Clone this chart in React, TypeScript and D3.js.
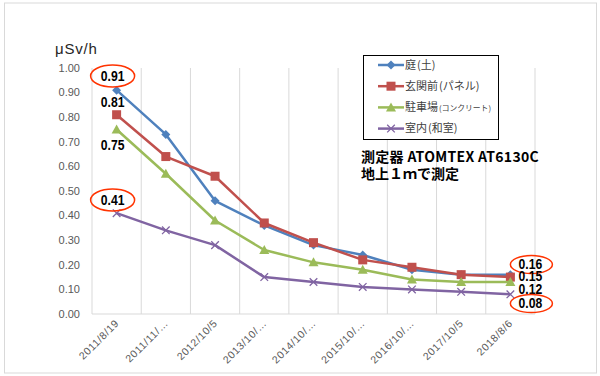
import React from "react";
import * as d3 from "d3";

const categories = ["2011/8/19", "2011/11/…", "2012/10/5", "2013/10/…", "2014/10/…", "2015/10/…", "2016/10/…", "2017/10/5", "2018/8/6"];
const seriesNames = ["庭(土)", "玄関前(パネル)", "駐車場(コンクリート)", "室内(和室)"];
const niwa = [0.91, 0.73, 0.46, 0.36, 0.28, 0.24, 0.18, 0.16, 0.16];
const genkan = [0.81, 0.64, 0.56, 0.37, 0.29, 0.22, 0.19, 0.16, 0.15];
const chusha = [0.75, 0.57, 0.38, 0.26, 0.21, 0.18, 0.14, 0.13, 0.13];
const shitsunai = [0.41, 0.34, 0.28, 0.15, 0.13, 0.11, 0.10, 0.09, 0.08];
const yTicks = [0, 0.1, 0.2, 0.3, 0.4, 0.5, 0.6, 0.7, 0.8, 0.9, 1.0];
const firstLabels = ["0.91", "0.81", "0.75", "0.41"];
const lastLabels = ["0.16", "0.15", "0.12", "0.08"];
const colors = ["#4F81BD", "#C0504D", "#9BBB59", "#8064A2"];
const markers = ["diamond", "square", "triangle", "x"];

const W = 600, H = 376;
const left = 92, right = 535, top = 68, bottom = 314;

function Marker({ type, x, y, color }: { type: string; x: number; y: number; color: string }) {
  if (type === "diamond") {
    const s = 4.5;
    return <path d={`M${x},${y - s}L${x + s},${y}L${x},${y + s}L${x - s},${y}Z`} fill={color} />;
  }
  if (type === "square") {
    const s = 4.5;
    return <rect x={x - s} y={y - s} width={2 * s} height={2 * s} fill={color} />;
  }
  if (type === "triangle") {
    const s = 5;
    return <path d={`M${x},${y - s}L${x + s},${y + s * 0.8}L${x - s},${y + s * 0.8}Z`} fill={color} />;
  }
  const s = 3.8;
  return (
    <path d={`M${x - s},${y - s}L${x + s},${y + s}M${x - s},${y + s}L${x + s},${y - s}`} stroke={color} strokeWidth={1.3} fill="none" />
  );
}

function DataLabel({ x, y, text }: { x: number; y: number; text: string }) {
  return (
    <text
      transform={`translate(${x},${y}) scale(0.84,1)`}
      dy="0.36em"
      textAnchor="middle"
      fontSize={14.5}
      fontWeight="bold"
      fontFamily="'Liberation Sans', Arial, sans-serif"
      fill="#000"
    >
      {text}
    </text>
  );
}

export default function App() {
  const data = [niwa, genkan, chusha, shitsunai];
  const x = d3.scaleBand<string>().domain(categories).range([left, right]);
  const y = d3.scaleLinear().domain([0, 1]).range([bottom, top]);
  const cx = (c: string) => (x(c) as number) + x.bandwidth() / 2;
  const line = d3
    .line<number>()
    .x((_, i) => cx(categories[i]))
    .y((d) => y(d));
  const boundaries = categories.map((c) => x(c) as number).concat([right]);
  const firstX = cx(categories[0]) - 4;
  const firstY = [76, 102, 145, 200];
  const lastX = cx(categories[categories.length - 1]) + 20;
  const lastY = [264, 276, 289, 303];
  const circledFirst = [true, false, false, true];
  const circledLast = [true, false, false, true];
  const jp = "'Noto Sans CJK JP', sans-serif";

  return (
    <svg width={W} height={H} style={{ position: "absolute", left: 0, top: 0 }} fontFamily="'Liberation Sans', Arial, sans-serif">
      <rect x={0} y={0} width={W} height={H} fill="#fff" />
      <rect x={4.5} y={3} width={592} height={370} fill="#fff" stroke="#d9d9d9" strokeWidth={1} />
      {boundaries.map((b, i) => (
        <line key={i} x1={b} x2={b} y1={top} y2={bottom} stroke="#d9d9d9" strokeWidth={1} />
      ))}
      <line x1={left} x2={right} y1={bottom} y2={bottom} stroke="#d9d9d9" strokeWidth={1} />
      {yTicks.map((t) => (
        <text key={t} x={80} y={y(t)} dy="0.35em" textAnchor="end" fontSize={11} fill="#595959">
          {t.toFixed(2)}
        </text>
      ))}
      <text x={55} y={54} fontSize={15} fill="#262626" letterSpacing={0.8}>μSv/h</text>
      {categories.map((c) => (
        <text
          key={c}
          transform={`translate(${cx(c) + 3},${324}) rotate(-45)`}
          textAnchor="end"
          fontSize={10.5}
          fill="#595959"
          letterSpacing={0.6}
        >
          {c}
        </text>
      ))}
      {data.map((s, si) => (
        <g key={si}>
          <path d={line(s) || ""} fill="none" stroke={colors[si]} strokeWidth={2.5} strokeLinejoin="round" />
          {s.map((v, i) => (
            <Marker key={i} type={markers[si]} x={cx(categories[i])} y={y(v)} color={colors[si]} />
          ))}
        </g>
      ))}
      {firstLabels.map((l, i) => (
        <g key={"f" + i}>
          {circledFirst[i] && (
            <ellipse cx={firstX} cy={firstY[i]} rx={22} ry={11} fill="none" stroke="#FF3300" strokeWidth={1.5} />
          )}
          <DataLabel x={firstX} y={firstY[i]} text={l} />
        </g>
      ))}
      {lastLabels.map((l, i) => (
        <g key={"l" + i}>
          {circledLast[i] && (
            <ellipse cx={lastX + 1} cy={lastY[i] + 0.5} rx={21} ry={9} fill="none" stroke="#FF3300" strokeWidth={1.5} />
          )}
          <DataLabel x={lastX} y={lastY[i]} text={l} />
        </g>
      ))}
      <rect x={363.5} y={55.5} width={135} height={84} fill="#fff" stroke="#000" strokeWidth={1} />
      {seriesNames.map((n, i) => {
        const ly = 65 + i * 21.2;
        const k = n.indexOf("(");
        return (
          <g key={n}>
            <line x1={378} x2={404} y1={ly} y2={ly} stroke={colors[i]} strokeWidth={2.5} />
            <Marker type={markers[i]} x={391} y={ly} color={colors[i]} />
            <text x={405} y={ly} dy="0.35em" fontSize={11} fill="#404040" fontFamily={jp}>
              <tspan>{n.slice(0, k)}</tspan>
              <tspan fontSize={i === 2 ? 7.8 : 11} dx={1}>{n.slice(k)}</tspan>
            </text>
          </g>
        );
      })}
      <text x={361} y={162} fontSize={14} fontWeight="bold" fill="#000" fontFamily={jp} letterSpacing={0.3}>
        測定器 ATOMTEX AT6130C
      </text>
      <text x={361} y={179} fontSize={14} fontWeight="bold" fill="#000" fontFamily={jp}>
        地上１ｍで測定
      </text>
    </svg>
  );
}
